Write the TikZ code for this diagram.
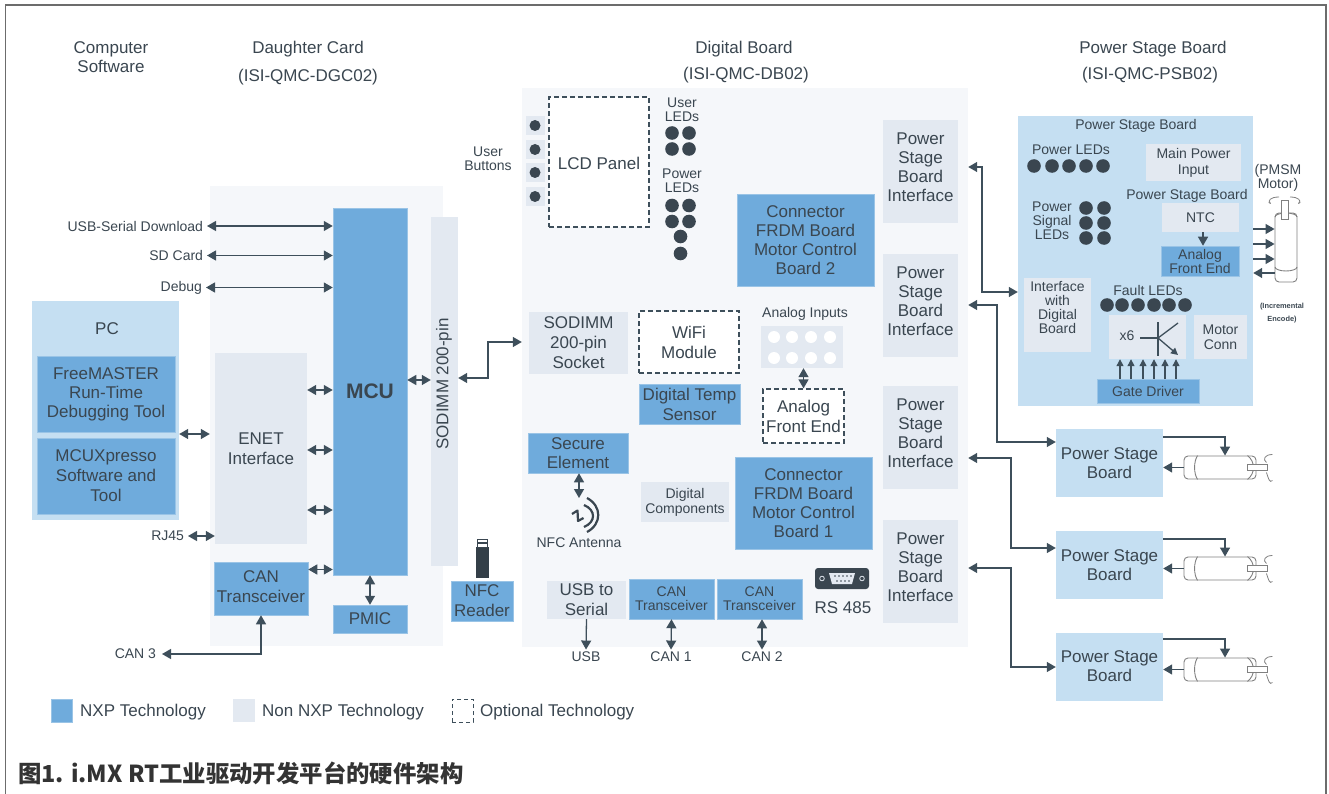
\documentclass[tikz,border=0pt]{standalone}
\usepackage{fontspec}
\setmainfont{Liberation Sans}
\newfontfamily\cjk{Noto Sans CJK SC}
\usepackage{xcolor}
\usepackage{tikz}
\usetikzlibrary{arrows.meta}
\definecolor{nxpblue}{HTML}{6FABDC}
\definecolor{nonnxp}{HTML}{E3E9F1}
\definecolor{panelgrey}{HTML}{F5F7FA}
\definecolor{lightblue}{HTML}{C5DFF2}
\definecolor{inkgrey}{HTML}{3A4650}
\definecolor{wiregrey}{HTML}{3E4F5B}
\tikzset{
  txtL/.style={font=\fontsize{17}{19}\selectfont, text=inkgrey, align=center, inner sep=0pt},
  txtW/.style={font=\fontsize{17}{20}\selectfont, text=inkgrey, align=center, inner sep=0pt},
  txtS/.style={font=\fontsize{14}{14}\selectfont, text=inkgrey, align=center, inner sep=0pt},
  sidelabel/.style={txtS, anchor=east, outer sep=4pt},
  underlabel/.style={txtS, outer sep=2pt},
  nxp/.style={rectangle, fill=nxpblue, draw=nxpblue!70!white, line width=0.5pt},
  nonbox/.style={rectangle, fill=nonnxp},
  optbox/.style={rectangle, draw=wiregrey, fill=white, dashed, dash pattern=on 5pt off 3pt, line width=1.2pt},
  panel/.style={rectangle, fill=panelgrey},
  bluepanel/.style={rectangle, fill=lightblue},
  link/.style={draw=wiregrey, line width=1.3pt, >={Triangle[length=9pt,width=10pt]}},
  led/.style={fill=inkgrey},
  motorbody/.style={rectangle, draw=gray, fill=white, rounded corners=4pt, line width=0.9pt, inner sep=0pt}
}
\begin{document}
\begin{tikzpicture}[x=1pt, y=-1pt]
\useasboundingbox (0,0) rectangle (1329,794);
\draw[gray!85!black, line width=1.5pt] (5.5,794) -- (5.5,5) -- (1326,5) -- (1326,794);

\node[txtL] (hsoft) at (111,57.5) {Computer\\Software};
\node[txtL] (hcard) at (308,49) {Daughter Card};
\node[txtL] (hcardid) at (308,77.5) {(ISI-QMC-DGC02)};
\node[txtL] (hdig) at (744,49) {Digital Board};
\node[txtL] (hdigid) at (746,75.5) {(ISI-QMC-DB02)};
\node[txtL] (hpsb) at (1153,49) {Power Stage Board};
\node[txtL] (hpsbid) at (1150,75.5) {(ISI-QMC-PSB02)};

\node[panel, minimum width=233pt, minimum height=460pt] (dgcard) at (326.5,416) {};
\node[panel, minimum width=446pt, minimum height=559pt] (digboard) at (745,367.5) {};
\node[bluepanel, minimum width=235pt, minimum height=290pt] (psboard) at (1135.5,261) {};

\node[bluepanel, minimum width=147pt, minimum height=219pt] (pc) at (105.5,410.5) {};
\node[txtL] (pclabel) at (107,329) {PC};
\node[nxp, txtL, minimum width=138pt, minimum height=76pt] (freemaster) at (106,394) {FreeMASTER\\Run-Time\\Debugging Tool};
\node[nxp, txtW, minimum width=138pt, minimum height=76pt] (mcuxpresso) at (106,476) {MCUXpresso\\Software and\\Tool};

\node[nonbox, txtW, minimum width=92pt, minimum height=191pt] (enet) at (261,448.5) {ENET\\Interface};
\node[nxp, txtW, text depth=4pt, minimum width=94pt, minimum height=53pt] (cantrans) at (261,588.5) {CAN\\Transceiver};
\node[nxp, txtL, font=\fontsize{21}{24}\selectfont\bfseries, minimum width=74pt, minimum height=367pt] (mcu) at (370,391.5) {MCU};
\node[nxp, txtL, minimum width=74pt, minimum height=28pt] (pmic) at (370,619) {PMIC};
\node[nonbox, minimum width=27pt, minimum height=349pt] (sodimm) at (444.5,391.5) {};
\node[txtL, rotate=90] (sodimmlabel) at (444,384) {SODIMM 200-pin};
\node[nxp, txtW, minimum width=62pt, minimum height=40pt] (nfcreader) at (482,601) {NFC\\Reader};

\node[sidelabel] (lblusbserial) at (207,226) {USB-Serial Download};
\node[sidelabel] (lblsd) at (207,255.5) {SD Card};
\node[sidelabel] (lbldebug) at (206,287.5) {Debug};
\node[sidelabel] (lblrj) at (188,536) {RJ45};
\node[sidelabel, outer sep=6pt] (lblcanthree) at (162,654) {CAN 3};

\fill[inkgrey!90!black] (476,547) rectangle (489,578);
\draw[inkgrey, fill=white, line width=1pt] (477.5,539.5) rectangle (487.5,547);
\fill[inkgrey] (477.5,542) rectangle (487.5,544);

\node[nonbox, txtW, minimum width=99pt, minimum height=62pt] (socket) at (578.5,342.5) {SODIMM\\200-pin\\Socket};
\node[optbox, txtL, text height=16pt, minimum width=100pt, minimum height=130pt] (lcd) at (599,162) {LCD Panel};
\node[optbox, txtW, minimum width=100pt, minimum height=62pt] (wifi) at (689,342) {WiFi\\Module};
\node[nxp, txtW, minimum width=101pt, minimum height=40pt] (temp) at (689.5,404) {Digital Temp\\Sensor};
\node[txtS] (lblinputs) at (805,314) {Analog Inputs};
\node[nonbox, minimum width=82pt, minimum height=42pt] (inputs) at (802,347) {};
\node[optbox, txtW, minimum width=81pt, minimum height=54pt] (afe) at (803.5,416) {Analog\\Front End};
\node[nxp, txtL, minimum width=100pt, minimum height=40pt] (secure) at (578,453) {Secure\\Element};
\node[nonbox, txtS, font=\fontsize{14}{15}\selectfont, minimum width=88pt, minimum height=40pt] (digcomp) at (685,502) {Digital\\Components};
\node[nxp, txtL, minimum width=137pt, minimum height=92pt] (frdmtwo) at (805.5,240) {Connector\\FRDM Board\\Motor Control\\Board 2};
\node[nxp, txtL, minimum width=137pt, minimum height=92pt] (frdmone) at (803.5,503) {Connector\\FRDM Board\\Motor Control\\Board 1};
\node[nonbox, txtW, minimum width=79pt, minimum height=38pt] (usbserial) at (586.5,600) {USB to\\Serial};
\node[nxp, txtS, minimum width=85pt, minimum height=40pt] (canone) at (671.5,599) {CAN\\Transceiver};
\node[nxp, txtS, minimum width=85pt, minimum height=40pt] (cantwo) at (759.5,599) {CAN\\Transceiver};
\node[txtL] (lblrs) at (843,608) {RS 485};
\node[underlabel] (lblusb) at (586,656.5) {USB};
\node[underlabel] (lblcanone) at (671,656.5) {CAN 1};
\node[underlabel] (lblcantwo) at (762,656.5) {CAN 2};
\node[txtS] (lblbuttons) at (488,159) {User\\Buttons};
\node[txtS] (lblusrled) at (682,110) {User\\LEDs};
\node[txtS] (lblpwrled) at (682,181) {Power\\LEDs};
\node[txtS] (lblnfc) at (579,543) {NFC Antenna};
\coordinate (nfcicon) at (579,498);

\foreach \y in {125.5,149.5,172.5,196.5} {
  \fill[nonnxp] (526,\y-9.5) rectangle (545,\y+9.5);
  \fill[led] (535,\y) circle (5.5pt);
}
\foreach \x/\y in {672/133,689/133,672/149,689/149,672/205.5,689/205.5,672/221.5,689/221.5,680.5/236.5,680.5/253.5}
  \fill[led] (\x,\y) circle (6.8pt);
\foreach \x in {774,792,811,830}
  \foreach \y in {337,358}
    \fill[white] (\x,\y) circle (6pt);

\fill[inkgrey, rounded corners=3pt] (815,568) rectangle (869,589);
\fill[nonnxp] (829,573) -- (855,573) -- (852,584) -- (832,584) -- cycle;
\foreach \x in {835,839,843,847,851} \fill[inkgrey] (\x,576) circle (0.9pt);
\foreach \x in {837,841,845,849} \fill[inkgrey] (\x,581) circle (0.9pt);
\foreach \x in {822,862} \draw[nonnxp, line width=0.8pt] (\x,578.5) circle (2.3pt);

\draw[inkgrey, line width=2.2pt, line join=round] (572,514) -- (577.5,510.5) -- (578,521) -- (583.5,518);
\draw[inkgrey, line width=2.2pt] (587,498) .. controls (602,506) and (602,524) .. (587,532);
\draw[inkgrey, line width=2.2pt] (584,505) .. controls (596,510) and (596,522) .. (584,527);

\foreach \name/\y in {ifone/171.5,iftwo/305,ifthree/437.5,iffour/571.5}
  \node[nonbox, txtL, text depth=8pt, minimum width=75pt, minimum height=103pt] (\name) at (920.5,\y) {Power\\Stage\\Board\\Interface};

\node[txtS] (psbtitle) at (1136,126) {Power Stage Board};
\node[txtS] (lblpsbled) at (1071,150) {Power LEDs};
\node[nonbox, txtS, font=\fontsize{14}{16}\selectfont, minimum width=95pt, minimum height=37pt] (mainpower) at (1193.5,162.5) {Main Power\\Input};
\node[txtS] (psbinner) at (1187,195.5) {Power Stage Board};
\node[nonbox, txtS, minimum width=77pt, minimum height=29pt] (ntc) at (1200.5,217.5) {NTC};
\node[nxp, txtS, minimum width=78pt, minimum height=30pt] (psbafe) at (1200,261) {Analog\\Front End};
\node[txtS] (lblsignal) at (1052,220.5) {Power\\Signal\\LEDs};
\node[nonbox, txtS, text depth=16pt, minimum width=67pt, minimum height=74pt] (ifdigital) at (1057.5,315) {Interface\\with\\Digital\\Board};
\node[txtS] (lblfault) at (1148,290.5) {Fault LEDs};
\node[nonbox, minimum width=77pt, minimum height=44pt] (transbox) at (1147.5,337) {};
\node[txtS] (lblxsix) at (1127,336) {x6};
\node[nonbox, txtS, font=\fontsize{14}{15}\selectfont, minimum width=53pt, minimum height=44pt] (motorconn) at (1220.5,337) {Motor\\Conn};
\node[nxp, txtS, minimum width=102pt, minimum height=24pt] (gate) at (1148,391) {Gate Driver};
\node[txtS] (lblpmsm) at (1278,177.5) {(PMSM\\Motor)};
\node[txtS, font=\fontsize{7.4}{13}\selectfont\bfseries] (lblenc) at (1282,313.5) {(Incremental\\Encode)};

\foreach \x in {1034,1052,1069,1086,1103} \fill[led] (\x,166) circle (6.8pt);
\foreach \x in {1086,1104} \foreach \y in {208,223,238} \fill[led] (\x,\y) circle (6.8pt);
\foreach \x in {1107,1122,1138,1154,1169,1185} \fill[led] (\x,305) circle (6.8pt);

\draw[link] (1140,338) -- (1158,338);
\draw[link] (1158,322) -- (1158,356);
\draw[link] (1158,338) -- (1178,323);
\draw[link, ->, >={Triangle[length=7pt,width=7pt]}] (1158,338) -- (1178,355);

\node[motorbody, minimum width=22pt, minimum height=69pt] (motorv) at (1286,247.5) {};
\draw[gray, line width=0.9pt] (1275,217) arc[start angle=180, end angle=360, x radius=11pt, y radius=-4pt];
\draw[gray, line width=0.9pt] (1275,267) arc[start angle=180, end angle=360, x radius=11pt, y radius=4pt];
\draw[gray, fill=white, line width=0.9pt] (1281,200) rectangle (1288,219);
\draw[gray, line width=0.8pt, -{Stealth[length=3pt]}] (1279,197) .. controls (1270,197) and (1268,201) .. (1271,204);
\draw[gray, line width=0.8pt, -{Stealth[length=3pt]}] (1290,197) .. controls (1299,197) and (1301,201) .. (1298,204);

\foreach \name/\y in {boarda/463,boardb/565,boardc/666.5}
  \node[bluepanel, txtL, minimum width=107pt, minimum height=68pt] (\name) at (1109.5,\y) {Power Stage\\Board};
\foreach \name/\y in {motora/467.5,motorb/568.5,motorc/669.5}
  \node[motorbody, minimum width=72pt, minimum height=23pt] (\name) at (1220,\y) {};
\foreach \name in {motora,motorb,motorc} {
  \draw[gray, line width=0.9pt] ([xshift=14pt]\name.north west) .. controls +(-4,6) and +(-4,-6) .. ([xshift=14pt]\name.south west);
  \draw[gray, line width=0.9pt] ([xshift=-9pt]\name.north east) .. controls +(8,6) and +(8,-6) .. ([xshift=-9pt]\name.south east);
  \draw[gray, fill=white, line width=0.9pt] ([xshift=-9pt,yshift=3pt]\name.east) rectangle ([xshift=11pt,yshift=-3pt]\name.east);
  \draw[gray, line width=0.8pt] ([xshift=16pt,yshift=13pt]\name.east) .. controls +(-8,0) and +(-4,-3) .. ([xshift=10pt,yshift=5pt]\name.east);
  \draw[gray, line width=0.8pt] ([xshift=10pt,yshift=-5pt]\name.east) .. controls +(2,6) and +(-3,3) .. ([xshift=16pt,yshift=-13pt]\name.east);
}

\draw[link, <->] (lblusbserial.east) -- (lblusbserial.east -| mcu.west);
\draw[link, <->] (lblsd.east) -- (lblsd.east -| mcu.west);
\draw[link, <->] (lbldebug.east) -- (lbldebug.east -| mcu.west);
\draw[link, <->] (pc.east |- 0,434) -- (dgcard.west |- 0,434);
\draw[link, <->] (lblrj.east) -- (lblrj.east -| enet.west);
\draw[link, <->] (enet.east |- 0,390) -- (mcu.west |- 0,390);
\draw[link, <->] (enet.east |- 0,450) -- (mcu.west |- 0,450);
\draw[link, <->] (enet.east |- 0,510) -- (mcu.west |- 0,510);
\draw[link, <->] (cantrans.east |- 0,569.5) -- (mcu.west |- 0,569.5);
\draw[link, <->] (mcu.east |- 0,380) -- (sodimm.west |- 0,380);
\draw[link, <->] (mcu) -- (pmic);
\draw[link, <->] (cantrans.south) |- (lblcanthree.east);
\draw[link, <->] (sodimm.east |- 0,378) -- (488,378) -- (488,342) -- (digboard.west |- 0,342);
\draw[link, <->] (inputs.south -| afe.north) -- (afe.north);
\draw[link, <->] (secure.south -| nfcicon) -- (nfcicon);
\draw[link, ->] (usbserial.south) -- (lblusb.north);
\draw[link, <->] (canone.south) -- (lblcanone.north);
\draw[link, <->] (cantwo.south -| lblcantwo.north) -- (lblcantwo.north);

\draw[link, <->] (digboard.east |- 0,167) -- (982,167) -- (982,292) -- (psboard.west |- 0,292);
\draw[link, <->] (digboard.east |- 0,305) -- (997,305) -- (997,442) -- (boarda.west |- 0,442);
\draw[link, <->] (digboard.east |- 0,458) -- (1011,458) -- (1011,548) -- (boardb.west |- 0,548);
\draw[link, <->] (digboard.east |- 0,568) -- (1011,568) -- (1011,667) -- (boardc.west |- 0,667);

\draw[link, ->] (ntc.south -| 1203,0) -- (psbafe.north -| 1203,0);
\foreach \x in {1120,1131,1143,1154,1165,1176}
  \draw[link, ->, >={Triangle[length=7pt,width=7pt]}] (gate.north -| \x,0) -- (transbox.south -| \x,0);
\foreach \y in {229,244,259}
  \draw[link, ->] (psboard.east |- 0,\y) -- (motorv.west |- 0,\y);
\draw[link, ->] (motorv.west |- 0,273) -- (psboard.east |- 0,273);

\draw[link, ->] (boarda.east |- 0,437) -| ([xshift=5pt]motora.north);
\draw[link, ->] (boardb.east |- 0,539) -| ([xshift=5pt]motorb.north);
\draw[link, ->] (boardc.east |- 0,639) -| ([xshift=5pt]motorc.north);
\draw[link, ->] (motora.west) -- (motora.west -| boarda.east);
\draw[link, ->] (motorb.west) -- (motorb.west -| boardb.east);
\draw[link, ->] (motorc.west) -- (motorc.west -| boardc.east);

\node[nxp, minimum width=21pt, minimum height=23pt] (legnxp) at (61.5,710.5) {};
\node[txtL, anchor=west] (lblnxp) at (80,712.5) {NXP Technology};
\node[nonbox, minimum width=22pt, minimum height=23pt] (legnon) at (244,710.5) {};
\node[txtL, anchor=west] (lblnon) at (262,712.5) {Non NXP Technology};
\node[optbox, line width=0.9pt, dash pattern=on 4pt off 3pt, minimum width=21pt, minimum height=23pt] (legopt) at (462.5,710.5) {};
\node[txtL, anchor=west] (lblopt) at (480,712.5) {Optional Technology};

\node[anchor=west, inner sep=0pt, text=black!80, font=\fontsize{23.4}{26}\selectfont\cjk\bfseries] (caption) at (18,773.5) {图1. i.MX RT工业驱动开发平台的硬件架构};
\end{tikzpicture}
\end{document}
